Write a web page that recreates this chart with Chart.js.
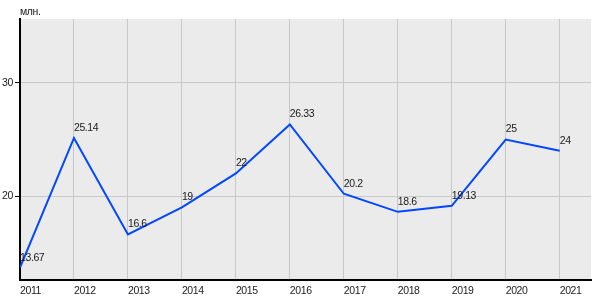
<!DOCTYPE html>
<html><head><meta charset="utf-8">
<script src="https://cdn.jsdelivr.net/npm/chart.js@4/dist/chart.umd.min.js"></script>
<style>html,body{margin:0;padding:0;background:#fff}#wrap{width:600px;height:300px}</style>
</head><body><div id="wrap"><canvas id="c" width="600" height="300"></canvas></div>
<script>
const years = [2011, 2012, 2013, 2014, 2015, 2016, 2017, 2018, 2019, 2020, 2021];
const values = [13.67, 25.14, 16.6, 19, 22, 26.33, 20.2, 18.6, 19.13, 25, 24];
const valueLabels = ["13.67", "25.14", "16.6", "19", "22", "26.33", "20.2", "18.6", "19.13", "25", "24"];
const yTicks = [20, 30];
const unitLabel = "млн.";

const FAMILY = "'Liberation Sans', Arial, sans-serif";
const FONT = "10.5px " + FAMILY;

const bgPlugin = {
  id: 'bg',
  beforeDraw(chart) {
    const {ctx, chartArea: a} = chart;
    ctx.letterSpacing = '-0.4px';
    ctx.save();
    ctx.fillStyle = '#ebebeb';
    ctx.fillRect(a.left, a.top, a.right - a.left, a.bottom - a.top);
    ctx.restore();
  },
  afterDraw(chart) {
    const {ctx, chartArea: a} = chart;
    const meta = chart.getDatasetMeta(0);
    ctx.save();
    ctx.letterSpacing = '-0.4px';
    ctx.font = FONT;
    ctx.fillStyle = '#1a1a1a';
    ctx.textAlign = 'left';
    ctx.textBaseline = 'alphabetic';
    meta.data.forEach((p, i) => {
      ctx.fillText(valueLabels[i], p.x, p.y - 7);
    });
    ctx.fillText(unitLabel, a.left, 15);
    ctx.restore();
  }
};

new Chart(document.getElementById('c'), {
  type: 'line',
  data: {
    datasets: [{
      data: years.map((y, i) => ({x: y, y: values[i]})),
      borderColor: '#0047ff',
      borderWidth: 2,
      pointRadius: 0,
      tension: 0,
      fill: false
    }]
  },
  options: {
    responsive: false,
    animation: false,
    devicePixelRatio: 1,
    layout: {padding: {top: 19, right: 9, left: 0, bottom: 0}},
    plugins: {legend: {display: false}, tooltip: {enabled: false}},
    scales: {
      x: {
        type: 'linear',
        min: 2011,
        max: 2021.58,
        afterBuildTicks: s => { s.ticks = years.map(v => ({value: v})); },
        afterFit: s => { s.height = 20; },
        ticks: {
          autoSkip: false,
          maxRotation: 0,
          align: 'start',
          padding: 5,
          color: '#1a1a1a',
          font: {family: FAMILY, size: 10.5},
          callback: v => String(v)
        },
        grid: {color: '#c8c8c8', drawTicks: false, lineWidth: 1},
        border: {display: true, color: '#000', width: 2}
      },
      y: {
        min: 12.57,
        max: 35.66,
        afterBuildTicks: s => { s.ticks = yTicks.map(v => ({value: v})); },
        afterFit: s => { s.width = 20; },
        ticks: {
          padding: 2,
          color: '#1a1a1a',
          font: {family: FAMILY, size: 10.5},
          callback: v => String(v)
        },
        grid: {color: '#c8c8c8', tickColor: '#000', tickLength: 5, lineWidth: 1},
        border: {display: true, color: '#000', width: 2}
      }
    }
  },
  plugins: [bgPlugin]
});
</script>
</body></html>
